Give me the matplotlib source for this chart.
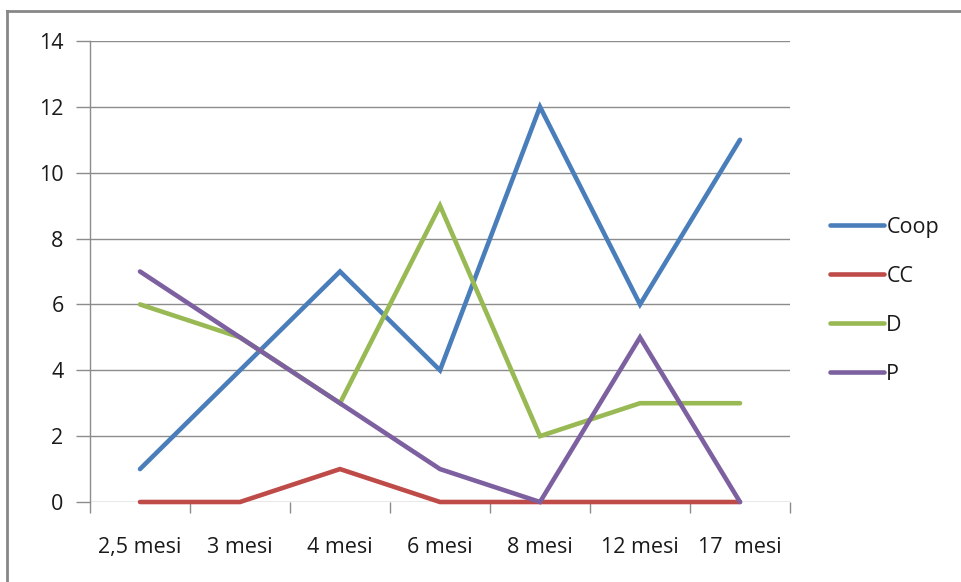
import matplotlib
matplotlib.use("Agg")
import matplotlib.pyplot as plt
from matplotlib.lines import Line2D

categories = ["2,5 mesi", "3 mesi", "4 mesi", "6 mesi", "8 mesi", "12 mesi", "17  mesi"]
coop = [1, 4, 7, 4, 12, 6, 11]
cc = [0, 0, 1, 0, 0, 0, 0]
d = [6, 5, 3, 9, 2, 3, 3]
p = [7, 5, 3, 1, 0, 5, 0]

series = [("Coop", coop, "#4A7EBB"), ("CC", cc, "#BE4B48"),
          ("D", d, "#98B954"), ("P", p, "#7D60A0")]

plt.rcParams['font.family'] = ['Open Sans', 'DejaVu Sans']
FS = 15.5
LW = 3.3

W, H = 961, 582
fig = plt.figure(figsize=(W / 100, H / 100), dpi=100)
ax = fig.add_axes([90 / W, 1 - 502 / H, 700 / W, 461 / H])

x = list(range(len(categories)))
handles = []
for name, vals, col in series:
    ax.plot(x, vals, color=col, lw=LW, solid_joinstyle='miter',
            solid_capstyle='round', zorder=3, clip_on=False)
    handles.append(Line2D([0], [0], color=col, lw=LW, solid_capstyle='round'))

ax.set_xlim(-0.5, len(categories) - 0.5)
ax.set_ylim(0, 14)
ax.set_yticks(range(0, 15, 2))
ax.yaxis.grid(True, color="#8c8c8c", lw=1.0, zorder=0)
ax.set_axisbelow(True)

for s in ["top", "right", "bottom"]:
    ax.spines[s].set_visible(False)
ax.spines["left"].set_color("#8c8c8c")
ax.spines["left"].set_linewidth(1.0)

# category ticks sit between the categories
ax.set_xticks([i + 0.5 for i in range(-1, len(categories))], minor=False)
ax.set_xticklabels([])
ax.set_xticks(x, minor=True)
ax.set_xticklabels(categories, minor=True, fontsize=FS, color="#1a1a1a")
ax.tick_params(axis="x", which="major", length=8, width=1.0, color="#8c8c8c", direction="out")
ax.tick_params(axis="x", which="minor", length=0, pad=25)
ax.tick_params(axis="y", length=10, width=1.0, color="#8c8c8c", labelsize=FS,
               labelcolor="#1a1a1a", pad=9)

leg = fig.legend(handles, [s[0] for s in series], loc="center left",
                 bbox_to_anchor=(811 / W, 1 - 301 / H), frameon=False,
                 fontsize=FS, handlelength=2.5, handletextpad=0.1, labelspacing=1.3)
for t in leg.get_texts():
    t.set_color("#1a1a1a")

# outer chart-area frame
fig.add_artist(Line2D([7 / W, 7 / W], [0, 1 - 11 / H], transform=fig.transFigure,
                      color="#878787", lw=2))
fig.add_artist(Line2D([7 / W, 1], [1 - 11 / H, 1 - 11 / H], transform=fig.transFigure,
                      color="#878787", lw=2))

fig.savefig("out.png", dpi=100)
